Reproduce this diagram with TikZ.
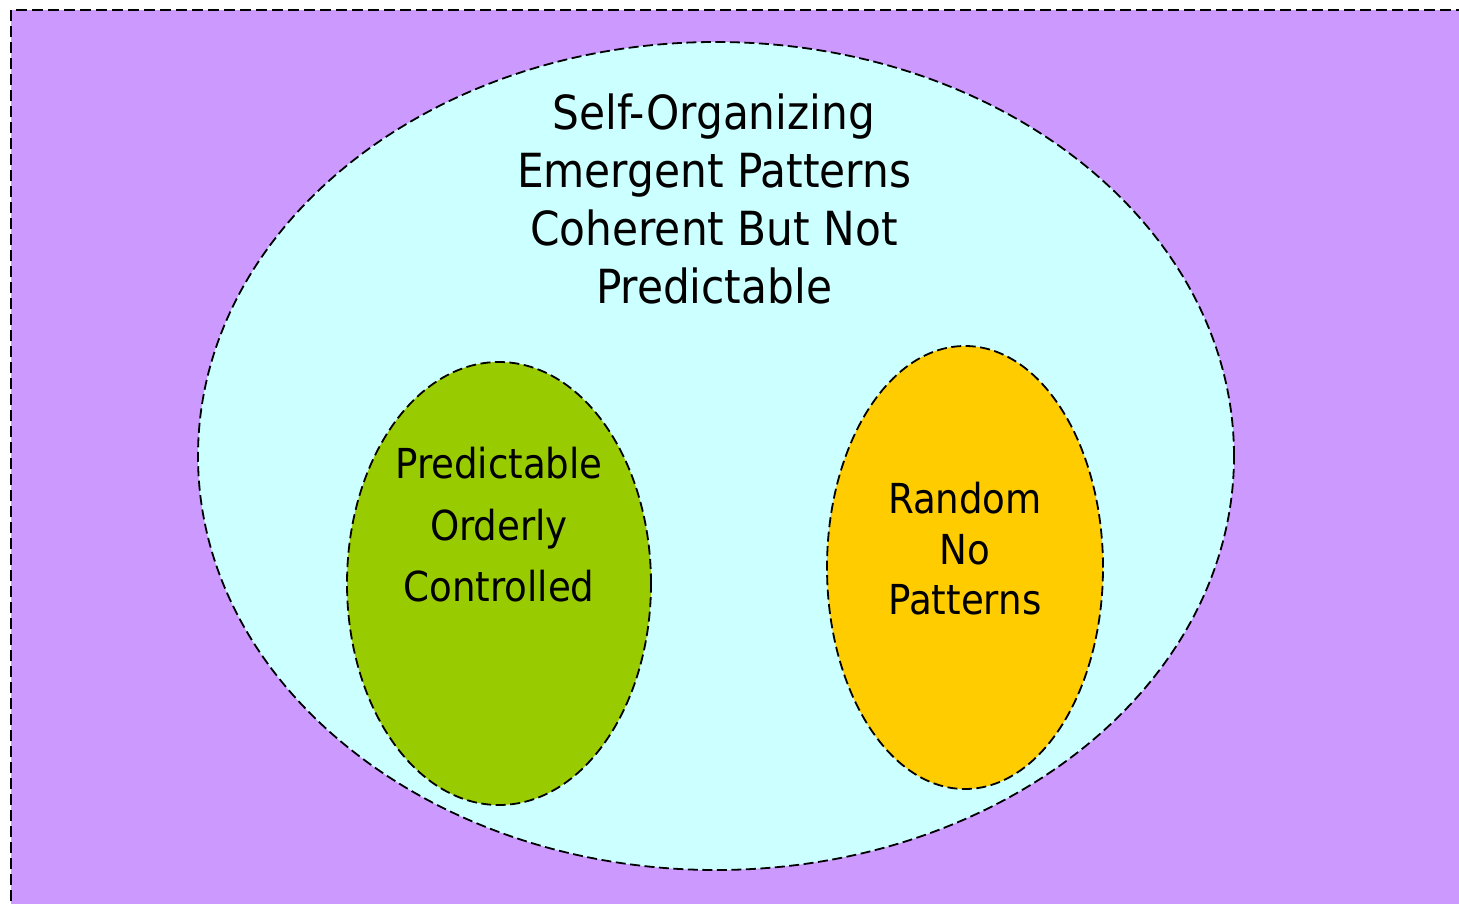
\documentclass[tikz,border=0pt]{standalone}
\usepackage{fontspec}
\setmainfont{DejaVu Sans Condensed}
\usetikzlibrary{shapes.geometric}
\definecolor{bgpurple}{HTML}{CC99FF}
\definecolor{paleCyan}{HTML}{CCFFFF}
\definecolor{leafgreen}{HTML}{99CC00}
\definecolor{goldorange}{HTML}{FFCC00}
\tikzset{
  framebox/.style={draw=black, fill=bgpurple, line width=2pt, dash pattern=on 11pt off 5pt},
  blob/.style={ellipse, draw=black, line width=1.8pt, dash pattern=on 10pt off 4.5pt, inner sep=0pt},
  bigtxt/.style={anchor=base, inner sep=0pt, font=\fontsize{47}{56}\selectfont},
  smalltxt/.style={anchor=base, inner sep=0pt, font=\fontsize{41.3}{50}\selectfont}
}
\begin{document}
\begin{tikzpicture}[x=1pt,y=-1pt]
\useasboundingbox (0,0) rectangle (1459,904);
\clip (0,0) rectangle (1459,904);
\fill[white] (0,0) rectangle (1459,904);
\draw[framebox] (11,10) rectangle (1480,925);
\node[blob, fill=paleCyan, minimum width=1036pt, minimum height=828pt] (outer) at (716,456) {};
\node[blob, fill=leafgreen, minimum width=304pt, minimum height=443pt] (green) at (499,583.5) {};
\node[blob, fill=goldorange, minimum width=276pt, minimum height=443pt] (orange) at (965,567.5) {};
\node[bigtxt] (t1) at (714,130) {Self-Organizing};
\node[bigtxt] (t2) at (714,188) {Emergent Patterns};
\node[bigtxt] (t3) at (714,246) {Coherent But Not};
\node[bigtxt] (t4) at (714,303) {Predictable};
\node[smalltxt] (g1) at (499,478) {Predictable};
\node[smalltxt] (g2) at (499,540) {Orderly};
\node[smalltxt] (g3) at (499,601) {Controlled};
\node[smalltxt] (o1) at (965,513) {Random};
\node[smalltxt] (o2) at (965,564) {No};
\node[smalltxt] (o3) at (965,614) {Patterns};
\end{tikzpicture}
\end{document}
